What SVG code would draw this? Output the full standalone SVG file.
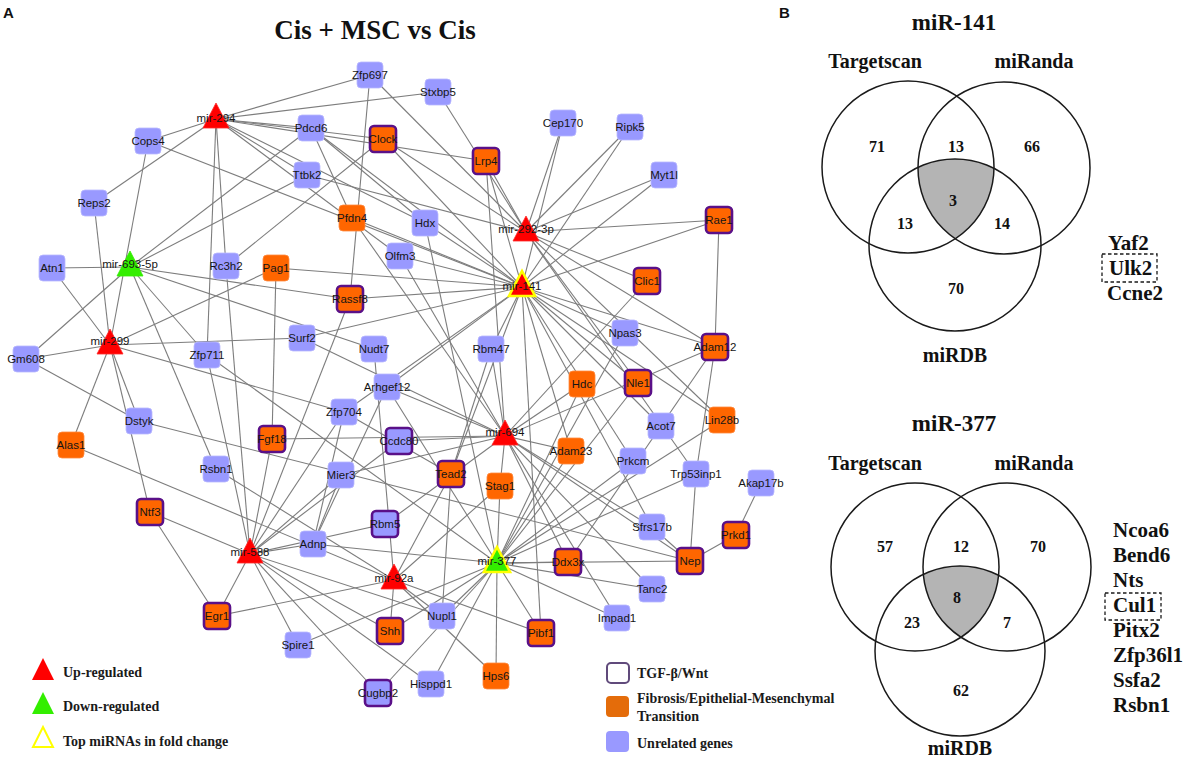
<svg xmlns="http://www.w3.org/2000/svg" width="1192" height="770" viewBox="0 0 1192 770">
<defs>
<style>
.bg{fill:#ffffff}
#edges line{stroke:#7d7d7d;stroke-width:1.1}
.gene rect{stroke:#b9b9ff;stroke-width:0.8}
.blue rect{fill:#9999ff}
.orange rect{fill:#ff6600;stroke:#ff8a40}
.tgf rect{stroke:#5a1088;stroke-width:2.6}
.gene text,.mir text{font-family:"Liberation Sans",Arial,sans-serif;font-size:11.5px;fill:#151515;text-anchor:middle}
.up polygon{fill:#ff0000;stroke:#ff2a2a;stroke-width:0.8}
.down polygon{fill:#33ee00;stroke:#33ee00;stroke-width:0.8}
.top polygon{stroke:#ffff00;stroke-width:2.6}
.panel{font-family:"Liberation Sans",Arial,sans-serif;font-size:15px;font-weight:bold;fill:#111}
.title{font-family:"Liberation Serif","Times New Roman",serif;font-size:27px;font-weight:bold;fill:#111;text-anchor:middle}
.leg{font-family:"Liberation Serif","Times New Roman",serif;font-size:14px;font-weight:bold;fill:#1a1a1a}
.vt{font-family:"Liberation Serif","Times New Roman",serif;font-size:23px;font-weight:bold;fill:#111;text-anchor:middle}
.vl{font-family:"Liberation Serif","Times New Roman",serif;font-size:20px;font-weight:bold;fill:#111;text-anchor:middle}
.vn{font-family:"Liberation Serif","Times New Roman",serif;font-size:16px;font-weight:bold;fill:#111;text-anchor:middle}
.gl{font-family:"Liberation Serif","Times New Roman",serif;font-size:21px;font-weight:bold;fill:#111}
.vc{fill:none;stroke:#1a1a1a;stroke-width:1.5}
.sh{fill:#b4b4b4}
.dash{fill:none;stroke:#1a1a1a;stroke-width:1.3;stroke-dasharray:3.5 2.5}
</style>
<clipPath id="t1"><circle cx="908" cy="167" r="86"/></clipPath>
<clipPath id="t2"><circle cx="1004" cy="168" r="86"/></clipPath>
<clipPath id="b1"><circle cx="915" cy="567" r="84"/></clipPath>
<clipPath id="b2"><circle cx="1007" cy="567" r="84"/></clipPath>
</defs>
<rect class="bg" x="0" y="0" width="1192" height="770"/>
<text class="panel" x="3" y="18">A</text>
<text class="panel" x="779" y="18">B</text>
<text class="title" x="375" y="39">Cis + MSC vs Cis</text>

<g id="edges">
<line x1="216" y1="119" x2="148" y2="141"/><line x1="216" y1="119" x2="94" y2="203"/><line x1="216" y1="119" x2="370" y2="75"/><line x1="216" y1="119" x2="438" y2="92"/><line x1="216" y1="119" x2="311" y2="128"/><line x1="216" y1="119" x2="383" y2="139"/><line x1="216" y1="119" x2="486" y2="161"/><line x1="216" y1="119" x2="307" y2="175"/><line x1="216" y1="119" x2="425" y2="223"/><line x1="216" y1="119" x2="400" y2="256"/><line x1="216" y1="119" x2="226" y2="266"/><line x1="216" y1="119" x2="207" y2="355"/>
<line x1="130" y1="267" x2="52" y2="268"/><line x1="130" y1="267" x2="26" y2="359"/><line x1="130" y1="267" x2="311" y2="128"/><line x1="130" y1="267" x2="307" y2="175"/><line x1="130" y1="267" x2="207" y2="355"/><line x1="130" y1="267" x2="374" y2="349"/><line x1="130" y1="267" x2="216" y2="469"/><line x1="130" y1="267" x2="350" y2="299"/>
<line x1="110" y1="345" x2="94" y2="203"/><line x1="110" y1="345" x2="148" y2="141"/><line x1="110" y1="345" x2="52" y2="268"/><line x1="110" y1="345" x2="26" y2="359"/><line x1="110" y1="345" x2="302" y2="338"/><line x1="110" y1="345" x2="139" y2="421"/><line x1="110" y1="345" x2="71" y2="445"/><line x1="110" y1="345" x2="150" y2="512"/><line x1="110" y1="345" x2="276" y2="268"/><line x1="110" y1="345" x2="344" y2="412"/>
<line x1="526" y1="232" x2="370" y2="75"/><line x1="526" y1="232" x2="438" y2="92"/><line x1="526" y1="232" x2="307" y2="175"/><line x1="526" y1="232" x2="383" y2="139"/><line x1="526" y1="232" x2="486" y2="161"/><line x1="526" y1="232" x2="563" y2="123"/><line x1="526" y1="232" x2="630" y2="127"/><line x1="526" y1="232" x2="664" y2="175"/><line x1="526" y1="232" x2="719" y2="220"/><line x1="526" y1="232" x2="647" y2="281"/><line x1="526" y1="232" x2="715" y2="347"/><line x1="526" y1="232" x2="638" y2="383"/><line x1="526" y1="232" x2="722" y2="420"/><line x1="526" y1="232" x2="696" y2="474"/>
<line x1="522" y1="287" x2="148" y2="141"/><line x1="522" y1="287" x2="311" y2="128"/><line x1="522" y1="287" x2="383" y2="139"/><line x1="522" y1="287" x2="486" y2="161"/><line x1="522" y1="287" x2="563" y2="123"/><line x1="522" y1="287" x2="630" y2="127"/><line x1="522" y1="287" x2="664" y2="175"/><line x1="522" y1="287" x2="719" y2="220"/><line x1="522" y1="287" x2="276" y2="268"/><line x1="522" y1="287" x2="350" y2="299"/><line x1="522" y1="287" x2="352" y2="218"/><line x1="522" y1="287" x2="425" y2="223"/><line x1="522" y1="287" x2="400" y2="256"/><line x1="522" y1="287" x2="302" y2="338"/><line x1="522" y1="287" x2="387" y2="387"/><line x1="522" y1="287" x2="491" y2="349"/><line x1="522" y1="287" x2="451" y2="474"/><line x1="522" y1="287" x2="625" y2="333"/><line x1="522" y1="287" x2="638" y2="383"/><line x1="522" y1="287" x2="722" y2="420"/><line x1="522" y1="287" x2="661" y2="426"/><line x1="522" y1="287" x2="715" y2="347"/><line x1="522" y1="287" x2="571" y2="451"/><line x1="522" y1="287" x2="633" y2="461"/><line x1="522" y1="287" x2="652" y2="527"/><line x1="522" y1="287" x2="541" y2="633"/><line x1="522" y1="287" x2="344" y2="412"/>
<line x1="505" y1="436" x2="272" y2="439"/><line x1="505" y1="436" x2="647" y2="281"/><line x1="505" y1="436" x2="486" y2="161"/><line x1="505" y1="436" x2="400" y2="256"/><line x1="505" y1="436" x2="352" y2="218"/><line x1="505" y1="436" x2="302" y2="338"/><line x1="505" y1="436" x2="387" y2="387"/><line x1="505" y1="436" x2="399" y2="441"/><line x1="505" y1="436" x2="341" y2="475"/><line x1="505" y1="436" x2="491" y2="349"/><line x1="505" y1="436" x2="385" y2="524"/><line x1="505" y1="436" x2="500" y2="486"/><line x1="505" y1="436" x2="582" y2="384"/><line x1="505" y1="436" x2="571" y2="451"/><line x1="505" y1="436" x2="715" y2="347"/><line x1="505" y1="436" x2="652" y2="527"/><line x1="505" y1="436" x2="690" y2="561"/><line x1="505" y1="436" x2="652" y2="589"/><line x1="505" y1="436" x2="617" y2="618"/><line x1="505" y1="436" x2="568" y2="562"/>
<line x1="250" y1="554" x2="207" y2="355"/><line x1="250" y1="554" x2="226" y2="266"/><line x1="250" y1="554" x2="272" y2="439"/><line x1="250" y1="554" x2="350" y2="299"/><line x1="250" y1="554" x2="344" y2="412"/><line x1="250" y1="554" x2="399" y2="441"/><line x1="250" y1="554" x2="341" y2="475"/><line x1="250" y1="554" x2="385" y2="524"/><line x1="250" y1="554" x2="313" y2="544"/><line x1="250" y1="554" x2="150" y2="512"/><line x1="250" y1="554" x2="217" y2="616"/><line x1="250" y1="554" x2="298" y2="645"/><line x1="250" y1="554" x2="378" y2="693"/><line x1="250" y1="554" x2="431" y2="684"/><line x1="250" y1="554" x2="390" y2="631"/><line x1="250" y1="554" x2="442" y2="616"/>
<line x1="497" y1="563" x2="313" y2="544"/><line x1="497" y1="563" x2="298" y2="645"/><line x1="497" y1="563" x2="442" y2="616"/><line x1="497" y1="563" x2="378" y2="693"/><line x1="497" y1="563" x2="431" y2="684"/><line x1="497" y1="563" x2="496" y2="676"/><line x1="497" y1="563" x2="541" y2="633"/><line x1="497" y1="563" x2="390" y2="631"/><line x1="497" y1="563" x2="568" y2="562"/><line x1="497" y1="563" x2="690" y2="561"/><line x1="497" y1="563" x2="652" y2="589"/><line x1="497" y1="563" x2="617" y2="618"/><line x1="497" y1="563" x2="696" y2="474"/><line x1="497" y1="563" x2="633" y2="461"/><line x1="497" y1="563" x2="571" y2="451"/><line x1="497" y1="563" x2="582" y2="384"/><line x1="497" y1="563" x2="638" y2="383"/><line x1="497" y1="563" x2="625" y2="333"/><line x1="497" y1="563" x2="722" y2="420"/><line x1="497" y1="563" x2="500" y2="486"/><line x1="497" y1="563" x2="387" y2="387"/><line x1="497" y1="563" x2="425" y2="223"/><line x1="497" y1="563" x2="207" y2="355"/>
<line x1="394" y1="580" x2="71" y2="445"/><line x1="394" y1="580" x2="216" y2="469"/><line x1="394" y1="580" x2="217" y2="616"/><line x1="394" y1="580" x2="451" y2="474"/><line x1="394" y1="580" x2="500" y2="486"/><line x1="394" y1="580" x2="442" y2="616"/><line x1="394" y1="580" x2="496" y2="676"/><line x1="394" y1="580" x2="541" y2="633"/><line x1="394" y1="580" x2="374" y2="349"/><line x1="394" y1="580" x2="390" y2="631"/>
<line x1="226" y1="266" x2="383" y2="139"/><line x1="276" y1="268" x2="272" y2="439"/><line x1="370" y1="75" x2="350" y2="299"/><line x1="311" y1="128" x2="352" y2="218"/><line x1="311" y1="128" x2="425" y2="223"/><line x1="26" y1="359" x2="139" y2="421"/><line x1="139" y1="421" x2="690" y2="561"/><line x1="150" y1="512" x2="217" y2="616"/><line x1="719" y1="220" x2="715" y2="347"/><line x1="715" y1="347" x2="696" y2="474"/><line x1="696" y1="474" x2="690" y2="561"/><line x1="761" y1="483" x2="736" y2="535"/><line x1="736" y1="535" x2="690" y2="561"/><line x1="652" y1="527" x2="690" y2="561"/><line x1="715" y1="347" x2="568" y2="562"/><line x1="344" y1="412" x2="451" y2="474"/><line x1="313" y1="544" x2="344" y2="412"/><line x1="313" y1="544" x2="341" y2="475"/><line x1="313" y1="544" x2="387" y2="387"/><line x1="491" y1="349" x2="451" y2="474"/><line x1="451" y1="474" x2="442" y2="616"/>
</g>

<g id="n-Zfp697" class="gene blue"><rect x="357" y="62" width="26" height="26" rx="4"/><text x="370" y="79">Zfp697</text></g>
<g id="n-Stxbp5" class="gene blue"><rect x="425" y="79" width="26" height="26" rx="4"/><text x="438" y="96">Stxbp5</text></g>
<g id="n-Cops4" class="gene blue"><rect x="135" y="128" width="26" height="26" rx="4"/><text x="148" y="145">Cops4</text></g>
<g id="n-Pdcd6" class="gene blue"><rect x="298" y="115" width="26" height="26" rx="4"/><text x="311" y="132">Pdcd6</text></g>
<g id="n-Clock" class="gene orange tgf"><rect x="370" y="126" width="26" height="26" rx="4"/><text x="383" y="143">Clock</text></g>
<g id="n-Lrp4" class="gene orange tgf"><rect x="473" y="148" width="26" height="26" rx="4"/><text x="486" y="165">Lrp4</text></g>
<g id="n-Cep170" class="gene blue"><rect x="550" y="110" width="26" height="26" rx="4"/><text x="563" y="127">Cep170</text></g>
<g id="n-Ripk5" class="gene blue"><rect x="617" y="114" width="26" height="26" rx="4"/><text x="630" y="131">Ripk5</text></g>
<g id="n-Myt1l" class="gene blue"><rect x="651" y="162" width="26" height="26" rx="4"/><text x="664" y="179">Myt1l</text></g>
<g id="n-Ttbk2" class="gene blue"><rect x="294" y="162" width="26" height="26" rx="4"/><text x="307" y="179">Ttbk2</text></g>
<g id="n-Reps2" class="gene blue"><rect x="81" y="190" width="26" height="26" rx="4"/><text x="94" y="207">Reps2</text></g>
<g id="n-Pfdn4" class="gene orange"><rect x="339" y="205" width="26" height="26" rx="4"/><text x="352" y="222">Pfdn4</text></g>
<g id="n-Hdx" class="gene blue"><rect x="412" y="210" width="26" height="26" rx="4"/><text x="425" y="227">Hdx</text></g>
<g id="n-Rae1" class="gene orange tgf"><rect x="706" y="207" width="26" height="26" rx="4"/><text x="719" y="224">Rae1</text></g>
<g id="n-Olfm3" class="gene blue"><rect x="387" y="243" width="26" height="26" rx="4"/><text x="400" y="260">Olfm3</text></g>
<g id="n-Atn1" class="gene blue"><rect x="39" y="255" width="26" height="26" rx="4"/><text x="52" y="272">Atn1</text></g>
<g id="n-Rc3h2" class="gene blue"><rect x="213" y="253" width="26" height="26" rx="4"/><text x="226" y="270">Rc3h2</text></g>
<g id="n-Pag1" class="gene orange"><rect x="263" y="255" width="26" height="26" rx="4"/><text x="276" y="272">Pag1</text></g>
<g id="n-Rassf8" class="gene orange tgf"><rect x="337" y="286" width="26" height="26" rx="4"/><text x="350" y="303">Rassf8</text></g>
<g id="n-Clic1" class="gene orange tgf"><rect x="634" y="268" width="26" height="26" rx="4"/><text x="647" y="285">Clic1</text></g>
<g id="n-Npas3" class="gene blue"><rect x="612" y="320" width="26" height="26" rx="4"/><text x="625" y="337">Npas3</text></g>
<g id="n-Surf2" class="gene blue"><rect x="289" y="325" width="26" height="26" rx="4"/><text x="302" y="342">Surf2</text></g>
<g id="n-Nudt7" class="gene blue"><rect x="361" y="336" width="26" height="26" rx="4"/><text x="374" y="353">Nudt7</text></g>
<g id="n-Rbm47" class="gene blue"><rect x="478" y="336" width="26" height="26" rx="4"/><text x="491" y="353">Rbm47</text></g>
<g id="n-Adam12" class="gene orange tgf"><rect x="702" y="334" width="26" height="26" rx="4"/><text x="715" y="351">Adam12</text></g>
<g id="n-Zfp711" class="gene blue"><rect x="194" y="342" width="26" height="26" rx="4"/><text x="207" y="359">Zfp711</text></g>
<g id="n-Gm608" class="gene blue"><rect x="13" y="346" width="26" height="26" rx="4"/><text x="26" y="363">Gm608</text></g>
<g id="n-Arhgef12" class="gene blue"><rect x="374" y="374" width="26" height="26" rx="4"/><text x="387" y="391">Arhgef12</text></g>
<g id="n-Hdc" class="gene orange"><rect x="569" y="371" width="26" height="26" rx="4"/><text x="582" y="388">Hdc</text></g>
<g id="n-Nle1" class="gene orange tgf"><rect x="625" y="370" width="26" height="26" rx="4"/><text x="638" y="387">Nle1</text></g>
<g id="n-Dstyk" class="gene blue"><rect x="126" y="408" width="26" height="26" rx="4"/><text x="139" y="425">Dstyk</text></g>
<g id="n-Zfp704" class="gene blue"><rect x="331" y="399" width="26" height="26" rx="4"/><text x="344" y="416">Zfp704</text></g>
<g id="n-Acot7" class="gene blue"><rect x="648" y="413" width="26" height="26" rx="4"/><text x="661" y="430">Acot7</text></g>
<g id="n-Lin28b" class="gene orange"><rect x="709" y="407" width="26" height="26" rx="4"/><text x="722" y="424">Lin28b</text></g>
<g id="n-Alas1" class="gene orange"><rect x="58" y="432" width="26" height="26" rx="4"/><text x="71" y="449">Alas1</text></g>
<g id="n-Fgf18" class="gene orange tgf"><rect x="259" y="426" width="26" height="26" rx="4"/><text x="272" y="443">Fgf18</text></g>
<g id="n-Ccdc80" class="gene blue tgf"><rect x="386" y="428" width="26" height="26" rx="4"/><text x="399" y="445">Ccdc80</text></g>
<g id="n-Adam23" class="gene orange"><rect x="558" y="438" width="26" height="26" rx="4"/><text x="571" y="455">Adam23</text></g>
<g id="n-Prkcm" class="gene blue"><rect x="620" y="448" width="26" height="26" rx="4"/><text x="633" y="465">Prkcm</text></g>
<g id="n-Trp53inp1" class="gene blue"><rect x="683" y="461" width="26" height="26" rx="4"/><text x="696" y="478">Trp53inp1</text></g>
<g id="n-Akap17b" class="gene blue"><rect x="748" y="470" width="26" height="26" rx="4"/><text x="761" y="487">Akap17b</text></g>
<g id="n-Rsbn1" class="gene blue"><rect x="203" y="456" width="26" height="26" rx="4"/><text x="216" y="473">Rsbn1</text></g>
<g id="n-Mier3" class="gene blue"><rect x="328" y="462" width="26" height="26" rx="4"/><text x="341" y="479">Mier3</text></g>
<g id="n-Tead2" class="gene orange tgf"><rect x="438" y="461" width="26" height="26" rx="4"/><text x="451" y="478">Tead2</text></g>
<g id="n-Stag1" class="gene orange"><rect x="487" y="473" width="26" height="26" rx="4"/><text x="500" y="490">Stag1</text></g>
<g id="n-Ntf3" class="gene orange tgf"><rect x="137" y="499" width="26" height="26" rx="4"/><text x="150" y="516">Ntf3</text></g>
<g id="n-Rbm5" class="gene blue tgf"><rect x="372" y="511" width="26" height="26" rx="4"/><text x="385" y="528">Rbm5</text></g>
<g id="n-Sfrs17b" class="gene blue"><rect x="639" y="514" width="26" height="26" rx="4"/><text x="652" y="531">Sfrs17b</text></g>
<g id="n-Prkd1" class="gene orange tgf"><rect x="723" y="522" width="26" height="26" rx="4"/><text x="736" y="539">Prkd1</text></g>
<g id="n-Adnp" class="gene blue"><rect x="300" y="531" width="26" height="26" rx="4"/><text x="313" y="548">Adnp</text></g>
<g id="n-Ddx3x" class="gene orange tgf"><rect x="555" y="549" width="26" height="26" rx="4"/><text x="568" y="566">Ddx3x</text></g>
<g id="n-Nep" class="gene orange tgf"><rect x="677" y="548" width="26" height="26" rx="4"/><text x="690" y="565">Nep</text></g>
<g id="n-Tanc2" class="gene blue"><rect x="639" y="576" width="26" height="26" rx="4"/><text x="652" y="593">Tanc2</text></g>
<g id="n-Egr1" class="gene orange tgf"><rect x="204" y="603" width="26" height="26" rx="4"/><text x="217" y="620">Egr1</text></g>
<g id="n-Nupl1" class="gene blue"><rect x="429" y="603" width="26" height="26" rx="4"/><text x="442" y="620">Nupl1</text></g>
<g id="n-Impad1" class="gene blue"><rect x="604" y="605" width="26" height="26" rx="4"/><text x="617" y="622">Impad1</text></g>
<g id="n-Shh" class="gene orange tgf"><rect x="377" y="618" width="26" height="26" rx="4"/><text x="390" y="635">Shh</text></g>
<g id="n-Pibf1" class="gene orange tgf"><rect x="528" y="620" width="26" height="26" rx="4"/><text x="541" y="637">Pibf1</text></g>
<g id="n-Spire1" class="gene blue"><rect x="285" y="632" width="26" height="26" rx="4"/><text x="298" y="649">Spire1</text></g>
<g id="n-Hps6" class="gene orange"><rect x="483" y="663" width="26" height="26" rx="4"/><text x="496" y="680">Hps6</text></g>
<g id="n-Hisppd1" class="gene blue"><rect x="418" y="671" width="26" height="26" rx="4"/><text x="431" y="688">Hisppd1</text></g>
<g id="n-Cugbp2" class="gene blue tgf"><rect x="365" y="680" width="26" height="26" rx="4"/><text x="378" y="697">Cugbp2</text></g>

<g id="m-mir-294" class="mir up"><polygon points="216,103 203,128 229,128"/><text x="216" y="122">mir-294</text></g>
<g id="m-mir-693-5p" class="mir down"><polygon points="130,251 117,276 143,276"/><text x="130" y="268">mir-693-5p</text></g>
<g id="m-mir-299" class="mir up"><polygon points="110,329 97,354 123,354"/><text x="110" y="345">mir-299</text></g>
<g id="m-mir-292-3p" class="mir up"><polygon points="526,216 513,241 539,241"/><text x="526" y="233">mir-292-3p</text></g>
<g id="m-mir-141" class="mir up top"><polygon points="522,271 509,296 535,296"/><text x="522" y="290">mir-141</text></g>
<g id="m-mir-694" class="mir up"><polygon points="505,420 492,445 518,445"/><text x="505" y="436">mir-694</text></g>
<g id="m-mir-588" class="mir up"><polygon points="250,538 237,563 263,563"/><text x="250" y="556">mir-588</text></g>
<g id="m-mir-377" class="mir down top"><polygon points="497,547 484,572 510,572"/><text x="497" y="565">mir-377</text></g>
<g id="m-mir-92a" class="mir up"><polygon points="394,564 381,589 407,589"/><text x="394" y="582">mir-92a</text></g>

<g id="legend-mirna">
<polygon points="43,658 32,680 54,680" fill="#ff0000"/>
<text class="leg" x="63" y="677">Up-regulated</text>
<polygon points="43,692 32,714 54,714" fill="#33ee00"/>
<text class="leg" x="63" y="711">Down-regulated</text>
<polygon points="43,727 33,747 53,747" fill="#ffffff" stroke="#ffff00" stroke-width="2"/>
<text class="leg" x="63" y="746">Top miRNAs in fold change</text>
</g>
<g id="legend-genes">
<rect x="607" y="663" width="22" height="20" rx="4" fill="#ffffff" stroke="#604a7b" stroke-width="2"/>
<text class="leg" x="637" y="678">TGF-β/Wnt</text>
<rect x="606" y="696" width="23" height="21" rx="4" fill="#e46c0a"/>
<text class="leg" x="637" y="703">Fibrosis/Epithelial-Mesenchymal</text>
<text class="leg" x="637" y="721">Transition</text>
<rect x="606" y="731" width="23" height="21" rx="4" fill="#9999ff"/>
<text class="leg" x="637" y="748">Unrelated genes</text>
</g>

<g id="venn-141">
<text class="vt" x="954" y="30">miR-141</text>
<text class="vl" x="875" y="68">Targetscan</text>
<text class="vl" x="1034" y="68">miRanda</text>
<g clip-path="url(#t1)"><g clip-path="url(#t2)"><circle class="sh" cx="955" cy="245" r="86"/></g></g>
<circle class="vc" cx="908" cy="167" r="86"/>
<circle class="vc" cx="1004" cy="168" r="86"/>
<circle class="vc" cx="955" cy="245" r="86"/>
<text class="vn" x="877" y="152">71</text>
<text class="vn" x="956" y="152">13</text>
<text class="vn" x="1032" y="152">66</text>
<text class="vn" x="953" y="206">3</text>
<text class="vn" x="905" y="229">13</text>
<text class="vn" x="1002" y="229">14</text>
<text class="vn" x="956" y="294">70</text>
<text class="vl" x="955" y="362">miRDB</text>
<text class="gl" x="1108" y="250">Yaf2</text>
<rect class="dash" x="1102" y="254" width="55" height="28"/>
<text class="gl" x="1109" y="275">Ulk2</text>
<text class="gl" x="1107" y="300">Ccne2</text>
</g>

<g id="venn-377">
<text class="vt" x="954" y="431">miR-377</text>
<text class="vl" x="875" y="470">Targetscan</text>
<text class="vl" x="1034" y="470">miRanda</text>
<g clip-path="url(#b1)"><g clip-path="url(#b2)"><circle class="sh" cx="960" cy="651" r="85"/></g></g>
<circle class="vc" cx="915" cy="567" r="84"/>
<circle class="vc" cx="1007" cy="567" r="84"/>
<circle class="vc" cx="960" cy="651" r="85"/>
<text class="vn" x="885" y="552">57</text>
<text class="vn" x="961" y="552">12</text>
<text class="vn" x="1038" y="552">70</text>
<text class="vn" x="957" y="603">8</text>
<text class="vn" x="912" y="628">23</text>
<text class="vn" x="1007" y="628">7</text>
<text class="vn" x="961" y="696">62</text>
<text class="vl" x="960" y="755">miRDB</text>
<text class="gl" x="1113" y="537">Ncoa6</text>
<text class="gl" x="1113" y="562">Bend6</text>
<text class="gl" x="1113" y="587">Nts</text>
<rect class="dash" x="1105" y="593" width="56" height="27"/>
<text class="gl" x="1113" y="612">Cul1</text>
<text class="gl" x="1113" y="637">Pitx2</text>
<text class="gl" x="1113" y="662">Zfp36l1</text>
<text class="gl" x="1113" y="687">Ssfa2</text>
<text class="gl" x="1113" y="712">Rsbn1</text>
</g>
</svg>
